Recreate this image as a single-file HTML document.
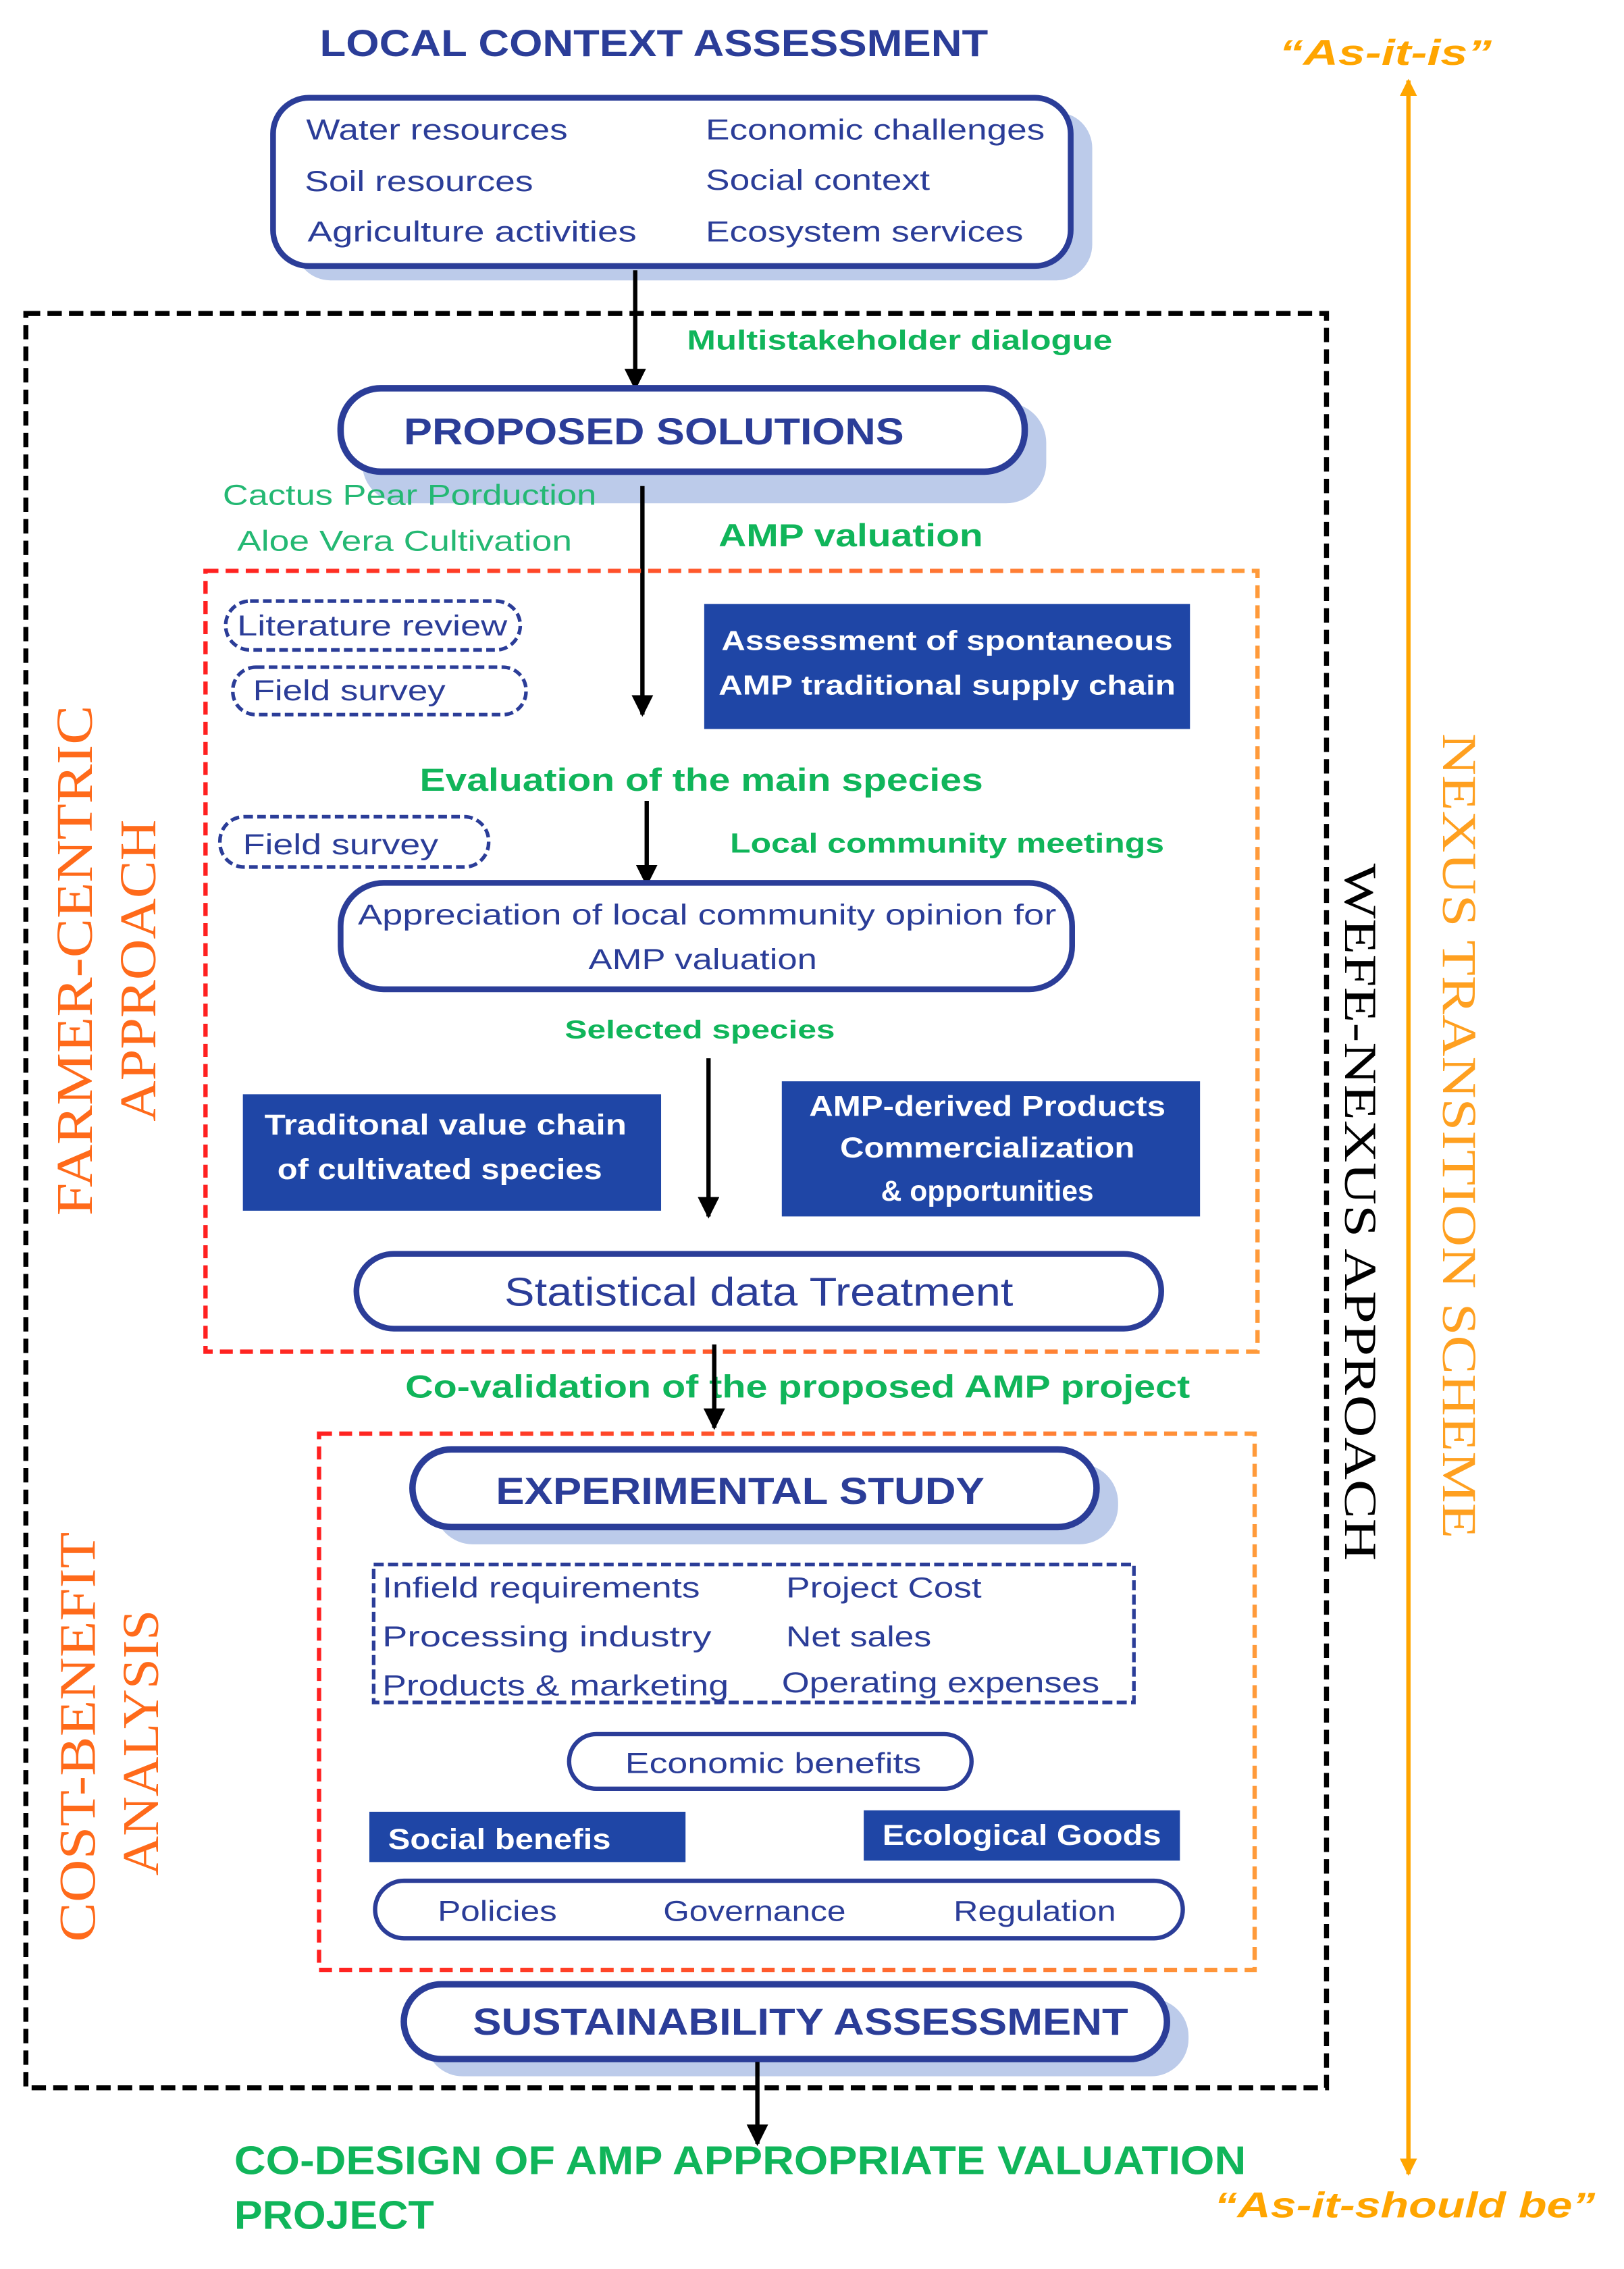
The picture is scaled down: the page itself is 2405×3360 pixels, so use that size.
<!DOCTYPE html>
<html><head><meta charset="utf-8"><style>
html,body{margin:0;padding:0;background:#fff;}
svg{display:block;}
text{font-family:"Liberation Sans",sans-serif;}
.nv{fill:#2b3d98;font-weight:bold;}
.gr{fill:#10b55a;font-weight:bold;}
.wh{fill:#fff;font-weight:bold;}
.sr{font-family:"Liberation Serif",serif;}
</style></head><body>
<svg width="2405" height="3360" viewBox="0 0 1130 1578" preserveAspectRatio="none" xmlns="http://www.w3.org/2000/svg">
<defs>
<linearGradient id="ro" x1="0" y1="0" x2="1" y2="0"><stop offset="0" stop-color="#ff2020"/><stop offset="1" stop-color="#ff9a3a"/></linearGradient>
<marker id="ah" viewBox="0 0 10 10" refX="9" refY="5" markerWidth="5" markerHeight="5" orient="auto"><path d="M0,0L10,5L0,10z" fill="#000"/></marker>
<marker id="oa" viewBox="0 0 10 10" refX="9" refY="5" markerWidth="4" markerHeight="4" orient="auto-start-reverse"><path d="M0,0L10,5L0,10z" fill="#ffa500"/></marker>
</defs>
<rect width="1130" height="1578" fill="#fff"/>

<text x="455" y="39" text-anchor="middle" class="nv" font-size="26" textLength="465" lengthAdjust="spacingAndGlyphs">LOCAL CONTEXT ASSESSMENT</text>

<!-- box1 -->
<rect x="205" y="78" width="555" height="117" rx="25" fill="#bccbea"/>
<rect x="190" y="68" width="555" height="117" rx="25" fill="#fff" stroke="#2b3d98" stroke-width="4"/>
<g class="nv" font-size="20" style="font-weight:normal">
<text x="213" y="97" fill="#2b3d98" textLength="182" lengthAdjust="spacingAndGlyphs">Water resources</text>
<text x="212" y="133" fill="#2b3d98" textLength="159" lengthAdjust="spacingAndGlyphs">Soil resources</text>
<text x="214" y="168" fill="#2b3d98" textLength="229" lengthAdjust="spacingAndGlyphs">Agriculture activities</text>
<text x="491" y="97" fill="#2b3d98" textLength="236" lengthAdjust="spacingAndGlyphs">Economic challenges</text>
<text x="491" y="132" fill="#2b3d98" textLength="156" lengthAdjust="spacingAndGlyphs">Social context</text>
<text x="491" y="168" fill="#2b3d98" textLength="221" lengthAdjust="spacingAndGlyphs">Ecosystem services</text>
</g>

<!-- outer dashed -->
<rect x="18" y="218" width="905" height="1234" fill="none" stroke="#000" stroke-width="3.5" stroke-dasharray="10,5"/>

<line x1="442" y1="188" x2="442" y2="270" stroke="#000" stroke-width="3" marker-end="url(#ah)"/>
<text x="478" y="243" class="gr" font-size="19" textLength="296" lengthAdjust="spacingAndGlyphs">Multistakeholder dialogue</text>

<rect x="252" y="280" width="476" height="70" rx="28" fill="#bccbea"/>
<rect x="237" y="270" width="476" height="58" rx="28" fill="#fff" stroke="#2b3d98" stroke-width="4.5"/>
<text x="455" y="309" text-anchor="middle" class="nv" font-size="26" textLength="348" lengthAdjust="spacingAndGlyphs">PROPOSED SOLUTIONS</text>

<text x="155" y="351" fill="#24b873" font-size="20" textLength="260" lengthAdjust="spacingAndGlyphs">Cactus Pear Porduction</text>
<text x="165" y="383" fill="#24b873" font-size="20" textLength="233" lengthAdjust="spacingAndGlyphs">Aloe Vera Cultivation</text>
<line x1="447" y1="338" x2="447" y2="497" stroke="#000" stroke-width="3" marker-end="url(#ah)"/>
<text x="500" y="380" class="gr" font-size="22" textLength="184" lengthAdjust="spacingAndGlyphs">AMP valuation</text>

<!-- red/orange box 1 -->
<rect x="143" y="397" width="732" height="543" fill="none" stroke="url(#ro)" stroke-width="3" stroke-dasharray="9,5"/>

<rect x="157" y="418" width="205" height="34" rx="17" fill="none" stroke="#2b3d98" stroke-width="2.5" stroke-dasharray="6,3"/>
<text x="259" y="442" text-anchor="middle" fill="#2b3d98" font-size="20" textLength="188" lengthAdjust="spacingAndGlyphs">Literature review</text>
<rect x="162" y="464" width="204" height="33" rx="16" fill="none" stroke="#2b3d98" stroke-width="2.5" stroke-dasharray="6,3"/>
<text x="176" y="487" fill="#2b3d98" font-size="20" textLength="134" lengthAdjust="spacingAndGlyphs">Field survey</text>

<rect x="490" y="420" width="338" height="87" fill="#1f46a6"/>
<text x="659" y="452" text-anchor="middle" class="wh" font-size="19" textLength="314" lengthAdjust="spacingAndGlyphs">Assessment of spontaneous</text>
<text x="659" y="483" text-anchor="middle" class="wh" font-size="19" textLength="318" lengthAdjust="spacingAndGlyphs">AMP traditional supply chain</text>

<text x="488" y="550" text-anchor="middle" class="gr" font-size="22" textLength="392" lengthAdjust="spacingAndGlyphs">Evaluation of the main  species</text>

<rect x="153" y="568" width="187" height="35" rx="17" fill="none" stroke="#2b3d98" stroke-width="2.5" stroke-dasharray="6,3"/>
<text x="169" y="594" fill="#2b3d98" font-size="20" textLength="136" lengthAdjust="spacingAndGlyphs">Field survey</text>
<line x1="450" y1="557" x2="450" y2="615" stroke="#000" stroke-width="3" marker-end="url(#ah)"/>
<text x="508" y="593" class="gr" font-size="19" textLength="302" lengthAdjust="spacingAndGlyphs">Local community meetings</text>

<rect x="237" y="614" width="509" height="74" rx="30" fill="#fff" stroke="#2b3d98" stroke-width="4"/>
<text x="492" y="643" text-anchor="middle" fill="#2b3d98" font-size="20" textLength="486" lengthAdjust="spacingAndGlyphs">Appreciation of local community opinion for</text>
<text x="489" y="674" text-anchor="middle" fill="#2b3d98" font-size="20" textLength="159" lengthAdjust="spacingAndGlyphs">AMP valuation</text>

<text x="487" y="722" text-anchor="middle" class="gr" font-size="18" textLength="188" lengthAdjust="spacingAndGlyphs">Selected species</text>
<line x1="493" y1="736" x2="493" y2="846" stroke="#000" stroke-width="3" marker-end="url(#ah)"/>

<rect x="169" y="761" width="291" height="81" fill="#1f46a6"/>
<text x="310" y="789" text-anchor="middle" class="wh" font-size="20" textLength="252" lengthAdjust="spacingAndGlyphs">Traditonal  value chain</text>
<text x="306" y="820" text-anchor="middle" class="wh" font-size="20" textLength="226" lengthAdjust="spacingAndGlyphs">of cultivated species</text>
<rect x="544" y="752" width="291" height="94" fill="#1f46a6"/>
<text x="687" y="776" text-anchor="middle" class="wh" font-size="20" textLength="248" lengthAdjust="spacingAndGlyphs">AMP-derived Products</text>
<text x="687" y="805" text-anchor="middle" class="wh" font-size="20" textLength="205" lengthAdjust="spacingAndGlyphs">Commercialization</text>
<text x="687" y="835" text-anchor="middle" class="wh" font-size="20" textLength="148" lengthAdjust="spacingAndGlyphs">&amp; opportunities</text>

<rect x="248" y="872" width="560" height="52" rx="26" fill="#fff" stroke="#2b3d98" stroke-width="4"/>
<text x="528" y="908" text-anchor="middle" class="nv" font-size="28" textLength="354" lengthAdjust="spacingAndGlyphs" style="font-weight:normal;">Statistical data Treatment</text>

<line x1="497" y1="935" x2="497" y2="993" stroke="#000" stroke-width="3" marker-end="url(#ah)"/>
<text x="282" y="972" class="gr" font-size="22" textLength="546" lengthAdjust="spacingAndGlyphs">Co-validation of  the proposed AMP project</text>
<line x1="497" y1="940" x2="497" y2="990" stroke="#000" stroke-width="3"/>

<!-- red/orange box 2 -->
<rect x="222" y="997" width="651" height="373" fill="none" stroke="url(#ro)" stroke-width="3" stroke-dasharray="9,5"/>

<rect x="302" y="1018" width="476" height="56" rx="27" fill="#bccbea"/>
<rect x="287" y="1008" width="476" height="54" rx="27" fill="#fff" stroke="#2b3d98" stroke-width="4.5"/>
<text x="515" y="1046" text-anchor="middle" class="nv" font-size="26" textLength="340" lengthAdjust="spacingAndGlyphs">EXPERIMENTAL STUDY</text>

<rect x="260" y="1088" width="529" height="96" fill="none" stroke="#2b3d98" stroke-width="2.5" stroke-dasharray="7,3"/>
<g fill="#2b3d98" font-size="20">
<text x="266" y="1111" textLength="221" lengthAdjust="spacingAndGlyphs">Infield requirements</text>
<text x="266" y="1145" textLength="229" lengthAdjust="spacingAndGlyphs">Processing  industry</text>
<text x="266" y="1179" textLength="241" lengthAdjust="spacingAndGlyphs">Products &amp; marketing</text>
<text x="547" y="1111" textLength="136" lengthAdjust="spacingAndGlyphs">Project Cost</text>
<text x="547" y="1145" textLength="101" lengthAdjust="spacingAndGlyphs">Net sales</text>
<text x="544" y="1177" textLength="221" lengthAdjust="spacingAndGlyphs">Operating expenses</text>
</g>

<rect x="396" y="1206" width="280" height="38" rx="19" fill="#fff" stroke="#2b3d98" stroke-width="3"/>
<text x="538" y="1233" text-anchor="middle" fill="#2b3d98" font-size="20" textLength="206" lengthAdjust="spacingAndGlyphs">Economic benefits</text>

<rect x="257" y="1260" width="220" height="35" fill="#1f46a6"/>
<text x="270" y="1286" class="wh" font-size="20" textLength="155" lengthAdjust="spacingAndGlyphs">Social benefis</text>
<rect x="601" y="1259" width="220" height="35" fill="#1f46a6"/>
<text x="711" y="1283" text-anchor="middle" class="wh" font-size="20" textLength="194" lengthAdjust="spacingAndGlyphs">Ecological Goods</text>

<rect x="261" y="1308" width="562" height="40" rx="20" fill="#fff" stroke="#2b3d98" stroke-width="3"/>
<g fill="#2b3d98" font-size="20" text-anchor="middle">
<text x="346" y="1336" textLength="83" lengthAdjust="spacingAndGlyphs">Policies</text>
<text x="525" y="1336" textLength="127" lengthAdjust="spacingAndGlyphs">Governance</text>
<text x="720" y="1336" textLength="113" lengthAdjust="spacingAndGlyphs">Regulation</text>
</g>

<rect x="296" y="1390" width="531" height="54" rx="26" fill="#bccbea"/>
<rect x="281" y="1380" width="531" height="52" rx="26" fill="#fff" stroke="#2b3d98" stroke-width="4.5"/>
<text x="557" y="1415" text-anchor="middle" class="nv" font-size="26" textLength="456" lengthAdjust="spacingAndGlyphs">SUSTAINABILITY ASSESSMENT</text>

<line x1="527" y1="1434" x2="527" y2="1491" stroke="#000" stroke-width="3" marker-end="url(#ah)"/>
<text x="163" y="1512" class="gr" font-size="28" textLength="704" lengthAdjust="spacingAndGlyphs">CO-DESIGN OF AMP APPROPRIATE VALUATION</text>
<text x="163" y="1550" class="gr" font-size="28" textLength="139" lengthAdjust="spacingAndGlyphs">PROJECT</text>

<!-- orange arrow -->
<line x1="980" y1="56" x2="980" y2="1512" stroke="#ffa500" stroke-width="3" marker-start="url(#oa)" marker-end="url(#oa)"/>
<text x="890" y="45" fill="#ffa500" font-size="25" font-weight="bold" font-style="italic" textLength="148" lengthAdjust="spacingAndGlyphs">“As-it-is”</text>
<text x="845" y="1542" fill="#ffa500" font-size="25" font-weight="bold" font-style="italic" textLength="265" lengthAdjust="spacingAndGlyphs">“As-it-should be”</text>

<!-- vertical texts -->
<text class="sr" transform="translate(1004,790) rotate(90)" text-anchor="middle" fill="#ffa020" font-size="34" textLength="560" lengthAdjust="spacingAndGlyphs">NEXUS TRANSITION SCHEME</text>
<text class="sr" transform="translate(936,843) rotate(90)" text-anchor="middle" fill="#000" font-size="32" textLength="485" lengthAdjust="spacingAndGlyphs">WEFE-NEXUS APPROACH</text>
<text class="sr" transform="translate(64,668) rotate(-90)" text-anchor="middle" fill="#ff6a1a" font-size="36" textLength="355" lengthAdjust="spacingAndGlyphs">FARMER-CENTRIC</text>
<text class="sr" transform="translate(108,675) rotate(-90)" text-anchor="middle" fill="#ff6a1a" font-size="36" textLength="210" lengthAdjust="spacingAndGlyphs">APPROACH</text>
<text class="sr" transform="translate(66,1208) rotate(-90)" text-anchor="middle" fill="#ff6a1a" font-size="36" textLength="285" lengthAdjust="spacingAndGlyphs">COST-BENEFIT</text>
<text class="sr" transform="translate(110,1212) rotate(-90)" text-anchor="middle" fill="#ff6a1a" font-size="36" textLength="185" lengthAdjust="spacingAndGlyphs">ANALYSIS</text>
</svg>
</body></html>
